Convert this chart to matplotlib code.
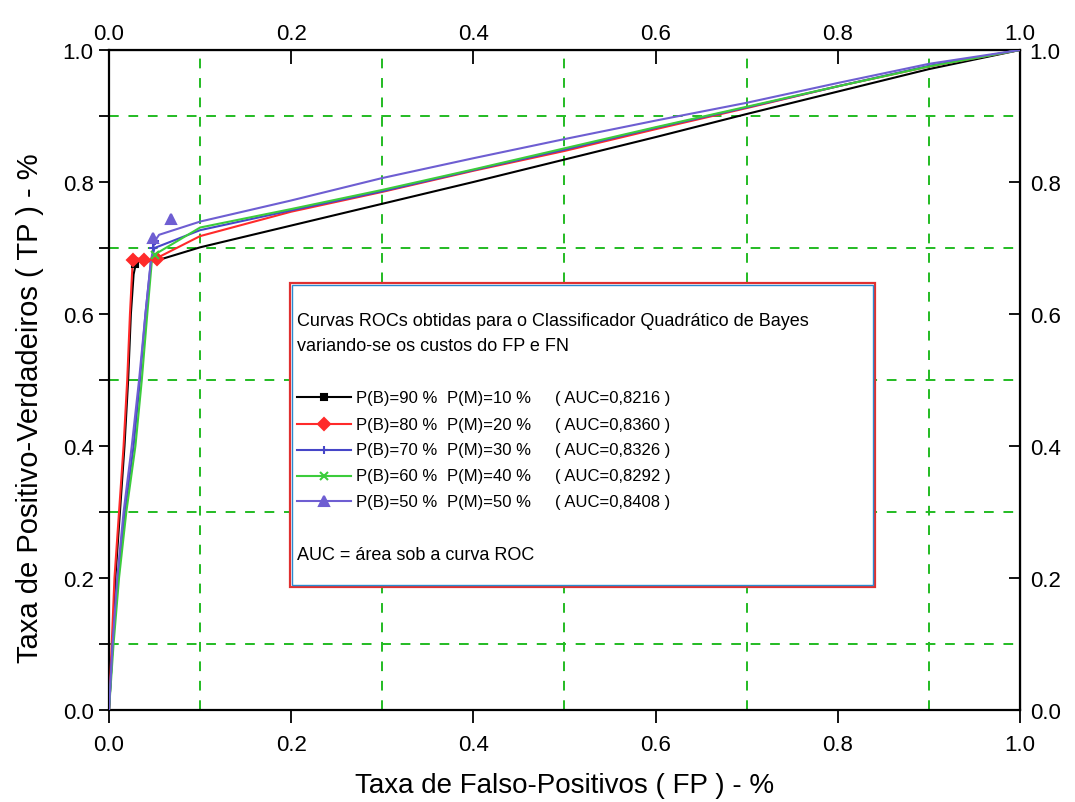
import numpy as np
import matplotlib
matplotlib.use('Agg')
from matplotlib import pyplot as plt
from matplotlib.patches import Rectangle
from matplotlib.lines import Line2D

plt.rcParams['font.family'] = ['Liberation Sans', 'DejaVu Sans']

# ROC curves of the quadratic Bayes classifier, one per cost setting
labels_pb = ['P(B)=90 %', 'P(B)=80 %', 'P(B)=70 %', 'P(B)=60 %', 'P(B)=50 %']
labels_pm = ['P(M)=10 %', 'P(M)=20 %', 'P(M)=30 %', 'P(M)=40 %', 'P(M)=50 %']
auc = ['0,8216', '0,8360', '0,8326', '0,8292', '0,8408']

fp_90 = [0, 0.002, 0.004, 0.007, 0.012, 0.017, 0.021, 0.024, 0.027, 0.030, 0.050,
         0.100, 0.200, 0.300, 0.400, 0.500, 0.600, 0.700, 0.800, 0.900, 1.0]
tp_90 = [0, 0.05, 0.10, 0.20, 0.30, 0.40, 0.50, 0.60, 0.66, 0.68, 0.68,
         0.701, 0.734, 0.767, 0.800, 0.834, 0.868, 0.903, 0.937, 0.971, 1.0]

fp_80 = [0, 0.003, 0.006, 0.011, 0.016, 0.020, 0.023, 0.026, 0.030, 0.040, 0.050,
         0.100, 0.200, 0.300, 0.400, 0.500, 0.600, 0.700, 0.800, 0.900, 1.0]
tp_80 = [0, 0.10, 0.20, 0.30, 0.40, 0.50, 0.60, 0.68, 0.685, 0.68, 0.683,
         0.718, 0.755, 0.785, 0.817, 0.847, 0.880, 0.912, 0.945, 0.975, 1.0]

fp_70 = [0, 0.004, 0.010, 0.0175, 0.027, 0.034, 0.040, 0.046, 0.050,
         0.100, 0.200, 0.300, 0.400, 0.500, 0.600, 0.700, 0.800, 0.900, 1.0]
tp_70 = [0, 0.10, 0.20, 0.30, 0.40, 0.50, 0.60, 0.68, 0.70,
         0.727, 0.757, 0.786, 0.818, 0.849, 0.882, 0.913, 0.945, 0.976, 1.0]

fp_60 = [0, 0.005, 0.011, 0.019, 0.029, 0.036, 0.042, 0.047, 0.050,
         0.100, 0.200, 0.300, 0.400, 0.500, 0.600, 0.700, 0.800, 0.900, 1.0]
tp_60 = [0, 0.10, 0.20, 0.30, 0.40, 0.50, 0.60, 0.68, 0.69,
         0.731, 0.759, 0.788, 0.819, 0.851, 0.883, 0.914, 0.945, 0.975, 1.0]

fp_50 = [0, 0.004, 0.009, 0.016, 0.025, 0.033, 0.040, 0.046, 0.050, 0.055,
         0.100, 0.200, 0.300, 0.400, 0.500, 0.600, 0.700, 0.800, 0.900, 1.0]
tp_50 = [0, 0.10, 0.20, 0.30, 0.40, 0.50, 0.60, 0.68, 0.71, 0.72,
         0.740, 0.772, 0.806, 0.836, 0.865, 0.893, 0.920, 0.950, 0.979, 1.0]

# symbol positions along each curve
mk_fp_90 = [0.028]
mk_tp_90 = [0.676]
mk_fp_80 = [0.026, 0.038, 0.053]
mk_tp_80 = [0.682, 0.682, 0.683]
mk_fp_70 = [0.048, 0.050]
mk_tp_70 = [0.700, 0.710]
mk_fp_60 = [0.050]
mk_tp_60 = [0.690]
mk_fp_50 = [0.048, 0.068]
mk_tp_50 = [0.715, 0.744]

curves = [(fp_90, tp_90, mk_fp_90, mk_tp_90),
          (fp_80, tp_80, mk_fp_80, mk_tp_80),
          (fp_70, tp_70, mk_fp_70, mk_tp_70),
          (fp_60, tp_60, mk_fp_60, mk_tp_60),
          (fp_50, tp_50, mk_fp_50, mk_tp_50)]
colors = ['#000000', '#ff2a2a', '#4646c8', '#3ccc3c', '#6e5ed2']
markers = ['s', 'D', '+', 'x', '^']
msizes = [4, 6, 6, 6, 7]

fig = plt.figure(figsize=(10.75, 8.03), dpi=100)
ax = fig.add_axes([0.1014, 0.1146, 0.8474, 0.8219])

ax.set_xlim(0, 1)
ax.set_ylim(0, 1)

ticks = [0.0, 0.2, 0.4, 0.6, 0.8, 1.0]
odd = [0.1, 0.3, 0.5, 0.7, 0.9]
tick_lbl = ['0.0', '0.2', '0.4', '0.6', '0.8', '1.0']

# dashed green grid on the odd tenths
for v in odd:
    ax.axvline(v, color='#22bb22', lw=1.4, ls=(0, (5, 5)), zorder=1)
    ax.axhline(v, color='#22bb22', lw=1.4, ls=(0, (5, 5)), zorder=1)

for (fx, ty, mx, my), c, m, s in zip(curves, colors, markers, msizes):
    ax.plot(fx, ty, color=c, lw=1.5, zorder=3)
    ax.plot(mx, my, ls='none', marker=m, color=c, ms=s, mew=1.5, zorder=4)

for sp in ax.spines.values():
    sp.set_linewidth(1.6)

ax.set_xticks(ticks)
ax.set_xticklabels(tick_lbl)
ax.set_xticks(odd, minor=True)
ax.set_yticks(ticks)
ax.set_yticklabels(tick_lbl)
ax.set_yticks(odd, minor=True)
ax.tick_params(axis='x', which='major', direction='out', length=9, width=1.3,
               labelsize=16, pad=8)
ax.tick_params(axis='x', which='minor', length=0)
ax.tick_params(axis='y', which='both', direction='out', length=7, width=1.3,
               labelsize=16, pad=4)

top = ax.secondary_xaxis('top')
top.set_xticks(ticks)
top.set_xticklabels(tick_lbl)
top.tick_params(direction='in', length=10, width=1.3, labelsize=16, pad=4)
right = ax.secondary_yaxis('right')
right.set_yticks(ticks)
right.set_yticklabels(tick_lbl)
right.tick_params(direction='in', length=8, width=1.3, labelsize=16, pad=7)

ax.set_xlabel('Taxa de Falso-Positivos ( FP ) - %', fontsize=20, va='center')
ax.xaxis.set_label_coords(0.5, -0.1136)
ax.set_ylabel('Taxa de Positivo-Verdadeiros ( TP ) - %', fontsize=21, va='center')
ax.yaxis.set_label_coords(-0.0867, 0.459)

# annotation box with the curve key
x0, y0, x1, y1 = 0.1987, 0.1864, 0.8408, 0.647
ax.add_patch(Rectangle((x0, y0), x1 - x0, y1 - y0, transform=ax.transAxes,
                       facecolor='white', edgecolor='#e03030', lw=1.6, zorder=5))
ax.add_patch(Rectangle((x0 + 0.0025, y0 + 0.0035), x1 - x0 - 0.005, y1 - y0 - 0.007,
                       transform=ax.transAxes, facecolor='none',
                       edgecolor='#2a8ad0', lw=1.0, zorder=5))

tx = 0.2064
kw = dict(transform=ax.transAxes, fontsize=13, va='center', ha='left', zorder=6)
ax.text(tx, 0.590, 'Curvas ROCs obtidas para o Classificador Quadrático de Bayes', **kw)
ax.text(tx, 0.552, 'variando-se os custos do FP e FN', **kw)
rows = [0.474, 0.433, 0.394, 0.355, 0.316]
kw_row = dict(kw, fontsize=12)
for i, yr in enumerate(rows):
    ax.add_line(Line2D([0.2064, 0.2656], [yr, yr], transform=ax.transAxes,
                       color=colors[i], lw=1.5, zorder=6))
    ax.add_line(Line2D([0.236], [yr], transform=ax.transAxes, ls='none',
                       marker=markers[i], color=colors[i], ms=msizes[i], mew=1.5,
                       zorder=6))
    ax.text(0.2711, yr, labels_pb[i], **kw_row)
    ax.text(0.371, yr, labels_pm[i], **kw_row)
    ax.text(0.4896, yr, '( AUC=' + auc[i] + ' )', **kw_row)
ax.text(tx, 0.236, 'AUC = área sob a curva ROC', **kw)

plt.savefig('out.png', dpi=100)
